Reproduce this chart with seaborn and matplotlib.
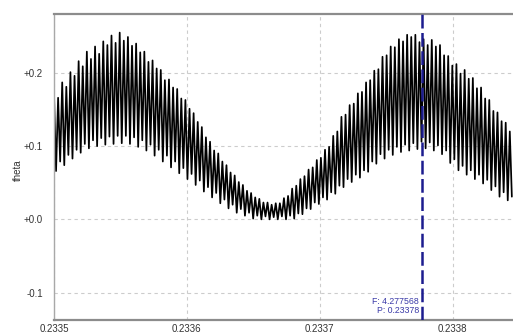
import numpy as np
import pandas as pd
import matplotlib
matplotlib.use("Agg")
import matplotlib.pyplot as plt
import seaborn as sns

# ----------------------------
# Data
# ----------------------------

# sampling of the trace: first sample time and sample step
t_start = 0.2335
t_step = 1.545e-6

# one peak and one trough per fast cycle, left to right
peaks = [
    0.172, 0.166, 0.187, 0.181, 0.201, 0.196, 0.216, 0.209, 0.229, 0.219,
    0.236, 0.226, 0.243, 0.238, 0.251, 0.241, 0.255, 0.244, 0.249, 0.237,
    0.240, 0.228, 0.229, 0.215, 0.217, 0.206, 0.204, 0.190, 0.191, 0.180,
    0.178, 0.165, 0.163, 0.151, 0.145, 0.133, 0.126, 0.112, 0.106, 0.094,
    0.090, 0.079, 0.074, 0.064, 0.060, 0.051, 0.047, 0.039, 0.036, 0.030,
    0.028, 0.023, 0.023, 0.020, 0.022, 0.022, 0.029, 0.032, 0.042, 0.046,
    0.055, 0.059, 0.068, 0.071, 0.081, 0.084, 0.095, 0.099, 0.114, 0.120,
    0.140, 0.143, 0.156, 0.158, 0.172, 0.174, 0.187, 0.190, 0.203, 0.205,
    0.222, 0.224, 0.236, 0.235, 0.246, 0.243, 0.252, 0.249, 0.252, 0.242,
    0.246, 0.238, 0.245, 0.236, 0.238, 0.224, 0.223, 0.210, 0.212, 0.199,
    0.204, 0.192, 0.193, 0.179, 0.180, 0.165, 0.163, 0.148, 0.146, 0.134,
    0.132, 0.120,
]
troughs = [
    0.066, 0.079, 0.074, 0.088, 0.083, 0.095, 0.091, 0.103, 0.097, 0.108,
    0.100, 0.111, 0.102, 0.113, 0.103, 0.114, 0.104, 0.114, 0.103, 0.112,
    0.099, 0.108, 0.094, 0.102, 0.087, 0.095, 0.079, 0.087, 0.071, 0.079,
    0.063, 0.070, 0.055, 0.062, 0.047, 0.053, 0.038, 0.044, 0.030, 0.036,
    0.022, 0.027, 0.015, 0.020, 0.009, 0.014, 0.005, 0.009, 0.001, 0.005,
    0.000, 0.004, 0.000, 0.003, 0.000, 0.004, 0.000, 0.005, 0.001, 0.008,
    0.007, 0.015, 0.014, 0.023, 0.021, 0.030, 0.027, 0.037, 0.035, 0.046,
    0.044, 0.055, 0.051, 0.061, 0.057, 0.067, 0.065, 0.079, 0.076, 0.089,
    0.083, 0.095, 0.088, 0.099, 0.092, 0.102, 0.094, 0.104, 0.096, 0.106,
    0.097, 0.105, 0.094, 0.101, 0.089, 0.094, 0.077, 0.082, 0.067, 0.073,
    0.061, 0.067, 0.055, 0.061, 0.049, 0.054, 0.040, 0.045, 0.031, 0.037,
    0.026, 0.031,
]

cursor_pos = 0.233777
cursor_f = "4.277568"
cursor_p = "0.23378"

xtick_vals = [0.2335, 0.2336, 0.2337, 0.2338]
xtick_labels = ["0.2335", "0.2336", "0.2337", "0.2338"]
ytick_vals = [-0.1, 0.0, 0.1, 0.2]
ytick_labels = ["-0.1", "+0.0", "+0.1", "+0.2"]

# ----------------------------
# Build trace
# ----------------------------

theta = np.column_stack([peaks, troughs]).ravel()
t = t_start + np.arange(len(theta)) * t_step
df = pd.DataFrame({"t": t, "theta": theta})

# ----------------------------
# Plot
# ----------------------------

sns.set_style("white")
plt.rcParams["font.family"] = ["Liberation Sans", "DejaVu Sans"]

fig = plt.figure(figsize=(5.13, 3.36), dpi=100)
ax = fig.add_axes([54 / 513, 1 - 320 / 336, 1 - 54 / 513, 306 / 336])

sns.lineplot(data=df, x="t", y="theta", color="black", linewidth=1.25,
             estimator=None, sort=False, ax=ax)

ax.axvline(cursor_pos, color="#1c1c8f", linewidth=1.8, dashes=(5.5, 1.8), zorder=5)
ax.text(cursor_pos - 0.0000025, -0.112, "F: " + cursor_f, color="#3a3aa8",
        fontsize=6.3, ha="right", va="center")
ax.text(cursor_pos - 0.0000025, -0.125, "P: " + cursor_p, color="#3a3aa8",
        fontsize=6.3, ha="right", va="center")

ax.set_xlim(0.2335, 0.2338454)
ax.set_ylim(-0.1374, 0.2804)

ax.set_xticks(xtick_vals)
ax.set_xticklabels(xtick_labels)
ax.set_yticks(ytick_vals)
ax.set_yticklabels(ytick_labels)
ax.tick_params(axis="both", length=0, labelsize=7, colors="#333333")
ax.tick_params(axis="y", pad=8)
ax.tick_params(axis="x", pad=3)

ax.grid(True, color="#cccccc", linestyle=(0, (3, 3)), linewidth=0.8)
ax.set_axisbelow(True)

ax.set_xlabel("")
ax.set_ylabel("theta", fontsize=7, color="#333333")
ax.yaxis.set_label_coords(-0.068, 0.49)

for side in ["top", "bottom"]:
    ax.spines[side].set_color("#8c8c8c")
    ax.spines[side].set_linewidth(1.6)
ax.spines["left"].set_color("#a8a8a8")
ax.spines["left"].set_linewidth(1.0)
ax.spines["right"].set_visible(False)

fig.savefig("out.png", dpi=100, facecolor="white")
